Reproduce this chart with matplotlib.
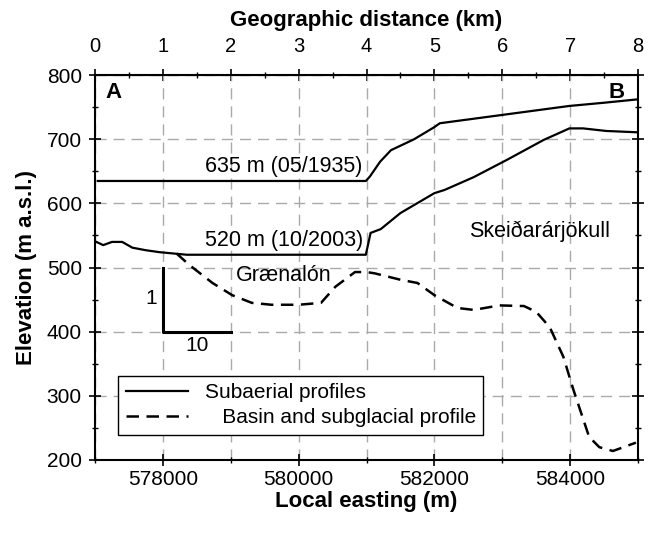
import matplotlib.pyplot as plt
import numpy as np
from matplotlib.ticker import MultipleLocator

plt.rcParams['font.family'] = ['Liberation Sans', 'DejaVu Sans']

# geographic distance (km) and elevation (m a.s.l.)
dist_1935 = [0.04, 3.99, 4.05, 4.2, 4.36, 4.7, 5.0, 5.08, 6.0, 6.99, 7.5, 7.97]
elev_1935 = [635, 635, 642, 665, 683, 700, 719, 725, 738, 752, 757, 762]

dist_2003 = [0.02, 0.12, 0.25, 0.4, 0.55, 0.75, 0.95, 1.15, 1.35, 3.99, 4.06, 4.21, 4.5,
             5.0, 5.15, 5.58, 6.07, 6.61, 6.99, 7.19, 7.53, 7.97]
elev_2003 = [540, 535, 540, 540, 531, 527, 524, 522, 520, 520, 554, 560, 585,
             616, 621, 641, 668, 699, 717, 717, 713, 711]

dist_basin = [1.2, 1.39, 1.73, 2.02, 2.31, 2.6, 3.0, 3.33, 3.54, 3.83, 4.0, 4.12, 4.5, 4.75,
              5.0, 5.34, 5.58, 5.96, 6.32, 6.5, 6.7, 6.9, 7.05, 7.28, 7.43, 7.63, 7.97]
elev_basin = [522, 504, 476, 457, 445, 442, 442, 445, 470, 493, 493, 491, 481, 476,
              457, 437, 434, 441, 440, 431, 407, 361, 309, 236, 220, 214, 227]

easting0 = 577000

fig = plt.figure(figsize=(6.51, 5.33), dpi=100)
ax = fig.add_axes([0.146, 0.137, 0.834, 0.722])

e = lambda d: easting0 + np.array(d) * 1000
ax.plot(e(dist_1935), elev_1935, color='black', lw=1.6, label='Subaerial profiles')
ax.plot(e(dist_2003), elev_2003, color='black', lw=1.6)
ax.plot(e(dist_basin), elev_basin, color='black', lw=1.8, ls=(0, (5, 3)),
        label='   Basin and subglacial profile')

# scale bar
ax.plot([578000, 578000, 579000], [500, 400, 400], color='black', lw=2.2)
ax.text(577830, 452, '1', fontsize=15, ha='center', va='center')
ax.text(578500, 378, '10', fontsize=15, ha='center', va='center')

ax.text(577150, 790, 'A', fontsize=16, fontweight='bold', ha='left', va='top')
ax.text(584800, 790, 'B', fontsize=16, fontweight='bold', ha='right', va='top')
ax.text(579780, 641, '635 m (05/1935)', fontsize=15.5, ha='center', va='bottom')
ax.text(579780, 526, '520 m (10/2003)', fontsize=15.5, ha='center', va='bottom')
ax.text(579780, 487, 'Grænalón', fontsize=15.5, ha='center', va='center')
ax.text(583550, 557, 'Skeiðarárjökull', fontsize=15.5, ha='center', va='center')

ax.set_xlim(577000, 585000)
ax.set_ylim(200, 800)
ax.xaxis.set_major_locator(MultipleLocator(2000))
ax.xaxis.set_minor_locator(MultipleLocator(1000))
ax.yaxis.set_major_locator(MultipleLocator(100))
ax.yaxis.set_minor_locator(MultipleLocator(50))
ax.set_xticks(np.arange(578000, 585000, 2000))
ax.grid(True, which='both', axis='x', color='#aaaaaa', ls=(0, (8, 5)), lw=1)
ax.grid(True, which='major', axis='y', color='#aaaaaa', ls=(0, (8, 5)), lw=1)
ax.tick_params(which='both', direction='inout', right=True, labelsize=15)
ax.tick_params(which='major', length=9, width=1.2)
ax.tick_params(which='minor', length=5, width=1)
ax.tick_params(axis='y', pad=5)
ax.tick_params(axis='x', pad=3)
for s in ax.spines.values():
    s.set_linewidth(1.5)

ax.set_xlabel('Local easting (m)', fontsize=16, fontweight='bold', labelpad=1)
ax.set_ylabel('Elevation (m a.s.l.)', fontsize=16, fontweight='bold', labelpad=7)

top = ax.secondary_xaxis('top', functions=(lambda x: (x - easting0) / 1000,
                                           lambda d: easting0 + d * 1000))
top.xaxis.set_major_locator(MultipleLocator(1))
top.xaxis.set_minor_locator(MultipleLocator(0.5))
top.tick_params(which='both', direction='inout', labelsize=14.5, pad=9)
top.tick_params(which='major', length=9, width=1.2)
top.tick_params(which='minor', length=5, width=1)
top.set_xlabel('Geographic distance (km)', fontsize=16, fontweight='bold', labelpad=8)

leg = ax.legend(loc='lower left', bbox_to_anchor=(0.035, 0.055), fontsize=15,
                fancybox=False, edgecolor='black', framealpha=1, handlelength=3.0,
                borderpad=0.35, labelspacing=0.3, borderaxespad=0.2)
leg.get_frame().set_linewidth(1)

fig.savefig('out.png', dpi=100)
